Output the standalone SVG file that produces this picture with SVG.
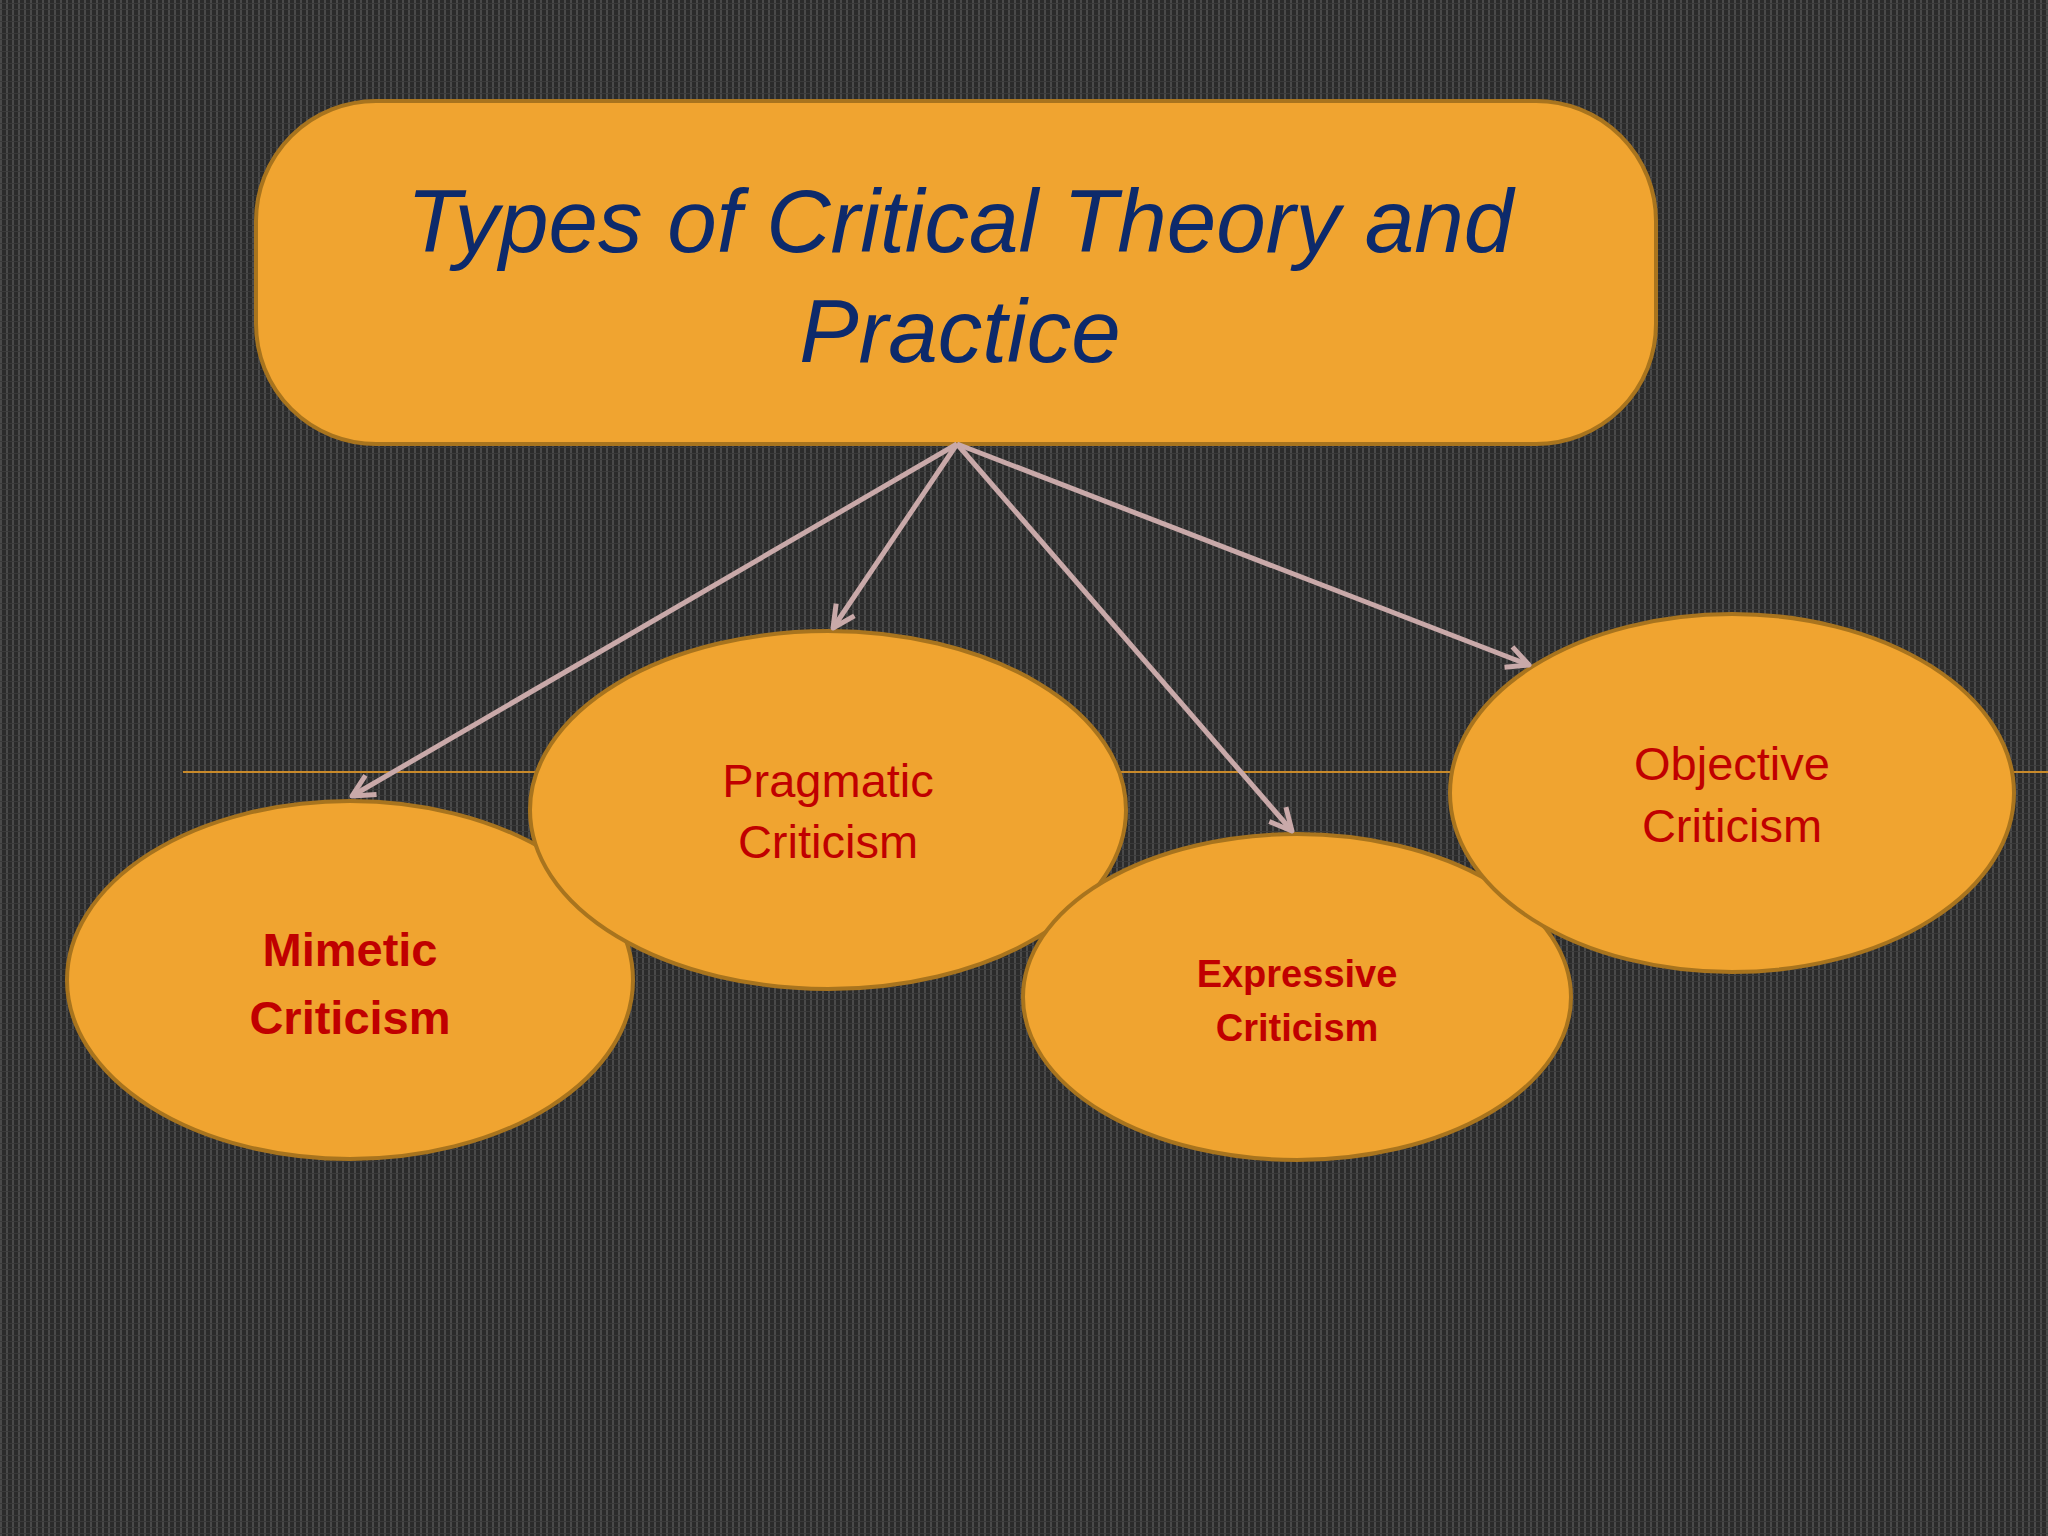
<svg xmlns="http://www.w3.org/2000/svg" width="2048" height="1536" viewBox="0 0 2048 1536">
<defs>
<pattern id="grid" width="6" height="6" patternUnits="userSpaceOnUse">
<rect width="6" height="6" fill="#2b2b2b"/>
<rect x="0" y="0" width="2" height="6" fill="#4a4a4a"/>
<rect x="0" y="3" width="6" height="1" fill="#3a3a3a"/>
</pattern>
<marker id="ah" markerWidth="30" markerHeight="30" refX="24" refY="15" orient="auto" markerUnits="userSpaceOnUse" viewBox="0 0 30 30">
<path d="M2,4 L24,15 L2,26" fill="none" stroke="#c9a9a9" stroke-width="5" stroke-linejoin="round"/>
</marker>
<style>
.node{fill:#f0a430;stroke:#a8741e;stroke-width:4}
.lbl{font-family:"Liberation Sans",Arial,sans-serif;fill:#c00000;text-anchor:middle}
.conn{stroke:#c9a9a9;stroke-width:5;fill:none}
</style>
</defs>
<rect width="2048" height="1536" fill="url(#grid)"/>
<line x1="183" y1="772" x2="2048" y2="772" stroke="#c88a2a" stroke-width="2"/>
<g id="title">
<rect class="node" x="256" y="101" width="1400" height="343" rx="120"/>
<text font-family="'Liberation Sans',Arial,sans-serif" font-style="italic" font-size="89" fill="#0d2a6b" text-anchor="middle"><tspan x="960" y="252">Types of Critical Theory and</tspan><tspan x="960" y="362">Practice</tspan></text>
</g>
<g id="mimetic">
<ellipse class="node" cx="350" cy="980" rx="283" ry="179"/>
<text class="lbl" font-size="47" font-weight="bold"><tspan x="350" y="966">Mimetic</tspan><tspan x="350" y="1034">Criticism</tspan></text>
</g>
<g id="pragmatic">
<ellipse class="node" cx="828" cy="810" rx="298" ry="179"/>
<text class="lbl" font-size="47"><tspan x="828" y="797">Pragmatic</tspan><tspan x="828" y="858">Criticism</tspan></text>
</g>
<g id="expressive">
<ellipse class="node" cx="1297" cy="997" rx="274" ry="163"/>
<text class="lbl" font-size="38" font-weight="bold"><tspan x="1297" y="987">Expressive</tspan><tspan x="1297" y="1041">Criticism</tspan></text>
</g>
<g id="objective">
<ellipse class="node" cx="1732" cy="793" rx="282" ry="179"/>
<text class="lbl" font-size="47"><tspan x="1732" y="780">Objective</tspan><tspan x="1732" y="842">Criticism</tspan></text>
</g>
<g id="connectors">
<line class="conn" x1="957" y1="444" x2="352" y2="796" marker-end="url(#ah)"/>
<line class="conn" x1="957" y1="444" x2="833" y2="628" marker-end="url(#ah)"/>
<line class="conn" x1="957" y1="444" x2="1292" y2="831" marker-end="url(#ah)"/>
<line class="conn" x1="957" y1="444" x2="1529" y2="665" marker-end="url(#ah)"/>
</g>
</svg>
